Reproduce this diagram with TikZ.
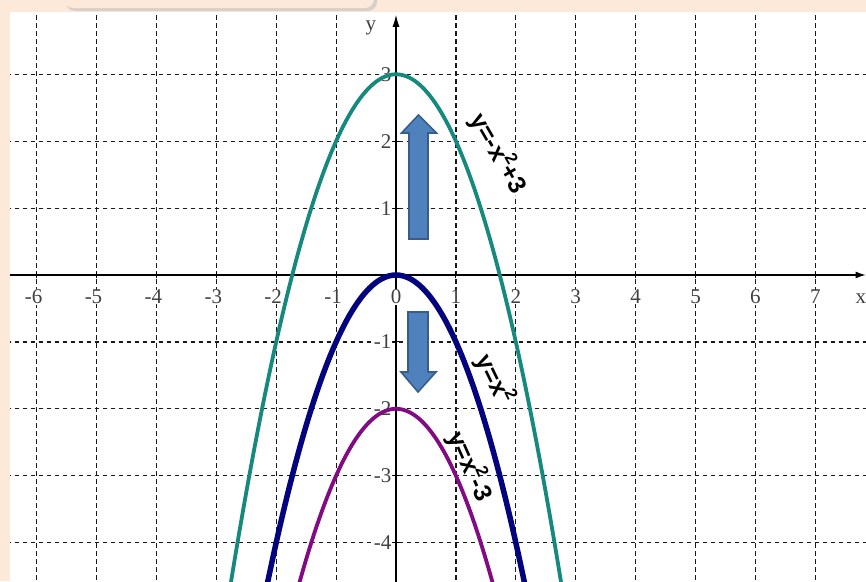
\documentclass[tikz,border=0pt]{standalone}
\usepackage{fontspec}
\setmainfont{Liberation Serif}
\newfontfamily\lblfont{Liberation Sans}
\usetikzlibrary{arrows.meta}
\definecolor{peach}{HTML}{FDE9D9}
\definecolor{tealc}{HTML}{16897F}
\definecolor{navyc}{HTML}{04047E}
\definecolor{purplec}{HTML}{820A82}
\definecolor{arrfill}{HTML}{4F81BD}
\definecolor{arrline}{HTML}{385D8A}
\tikzset{
  gridline/.style={black!90, line width=1.2pt, dash pattern=on 4.5pt off 3.5pt},
  axisline/.style={black, line width=1.2pt},
  ticklbl/.style={font=\fontsize{21}{21}\selectfont, text=black!75, fill=white, inner sep=0.5pt},
  curvelbl/.style={font=\lblfont\bfseries\fontsize{25}{25}\selectfont, fill=white, inner sep=1pt},
  blockarrow/.style={fill=arrfill, draw=arrline, line width=1.6pt, line join=miter},
}
\newcommand{\sqr}{\kern-0.5pt\raisebox{0.45em}{\fontsize{17}{17}\selectfont 2}}
\begin{document}
\begin{tikzpicture}[x=1pt,y=-1pt]
\useasboundingbox (0,0) rectangle (866,581);
\fill[peach] (0,0) rectangle (866,581);
% top tab with shadow
\fill[black!25, opacity=0.6, rounded corners=9pt] (66,-14) rectangle (377,11);
\fill[peach, rounded corners=9pt] (64,-14) rectangle (374,8);
% white panel
\fill[white] (10,12) rectangle (866,581);
\begin{scope}
\clip (10,12) rectangle (866,581);
\begin{scope}[shift={(396pt,-275pt)}, x=59.9pt, y=66.9pt]
  % grid
  \foreach \i in {-6,...,7} {\ifnum\i=0\else \draw[gridline] (\i,4.0) -- (\i,-4.7);\fi}
  \foreach \j in {-4,...,3} {\ifnum\j=0\else \draw[gridline] (-6.5,\j) -- (7.9,\j);\fi}
  % axes
  \coordinate (xs) at (-6.5,0);
  \coordinate (xe) at (7.84,0);
  \coordinate (ys) at (0,-4.7);
  \coordinate (ye) at (0,3.89);
  \draw[axisline, -{Latex[length=10pt,width=7pt]}] (xs) -- (xe);
  \draw[axisline, -{Latex[length=12pt,width=7pt]}] (ys) -- (ye);
  \foreach \i in {-6,...,7} {\draw[axisline, line width=0.9pt] (\i,0) ++(0,-3pt) -- ++(0,6pt);}
  \foreach \j in {-4,...,3} {\draw[axisline, line width=0.9pt] (0,\j) ++(-3pt,0) -- ++(6pt,0);}
  % tick labels
  \foreach \i in {-6,...,-1} {\node[ticklbl, xshift=-3pt, yshift=-22pt] (tx\i) at (\i,0) {-\the\numexpr-\i\relax};}
  \foreach \i in {0,...,7} {\node[ticklbl, yshift=-22pt] (tx\i) at (\i,0) {\i};}
  \foreach \j in {1,2,3} {\node[ticklbl, anchor=east, xshift=-4pt] (ty\j) at (0,\j) {\j};}
  \foreach \j in {1,...,4} {\node[ticklbl, anchor=east, xshift=-4pt] (tym\j) at (0,-\j) {-\j};}
  \node[ticklbl, fill=none] (ylab) at (-0.42,3.7) {y};
  \node[ticklbl, fill=none] (xlab) at (7.76,-0.36) {x};
  % curves
  \draw[tealc, line width=3.8pt] plot[domain=-2.9:2.9, samples=120, smooth] (\x,{-\x*\x+3});
  \draw[navyc, line width=5.5pt] plot[domain=-2.3:2.3, samples=100, smooth] (\x,{-\x*\x});
  \draw[purplec, line width=3.8pt] plot[domain=-1.8:1.8, samples=90, smooth] (\x,{-\x*\x-2});
\end{scope}
\end{scope}
% block arrows
\filldraw[blockarrow] (409,239) -- (428,239) -- (428,133) -- (436.5,133) -- (418.5,115) -- (401.5,133) -- (409,133) -- cycle;
\filldraw[blockarrow] (408,312) -- (428,312) -- (428,372) -- (436,372) -- (418,392) -- (401,372) -- (408,372) -- cycle;
% curve labels
\node[curvelbl, rotate=-60] (l1) at (499,153) {y=-x\sqr+3};
\node[curvelbl, rotate=-64, fill=none] (l2) at (495,379) {y=x\sqr};
\node[curvelbl, rotate=-66, fill=none] (l3) at (471,466) {y=x\sqr-3};
\end{tikzpicture}
\end{document}
